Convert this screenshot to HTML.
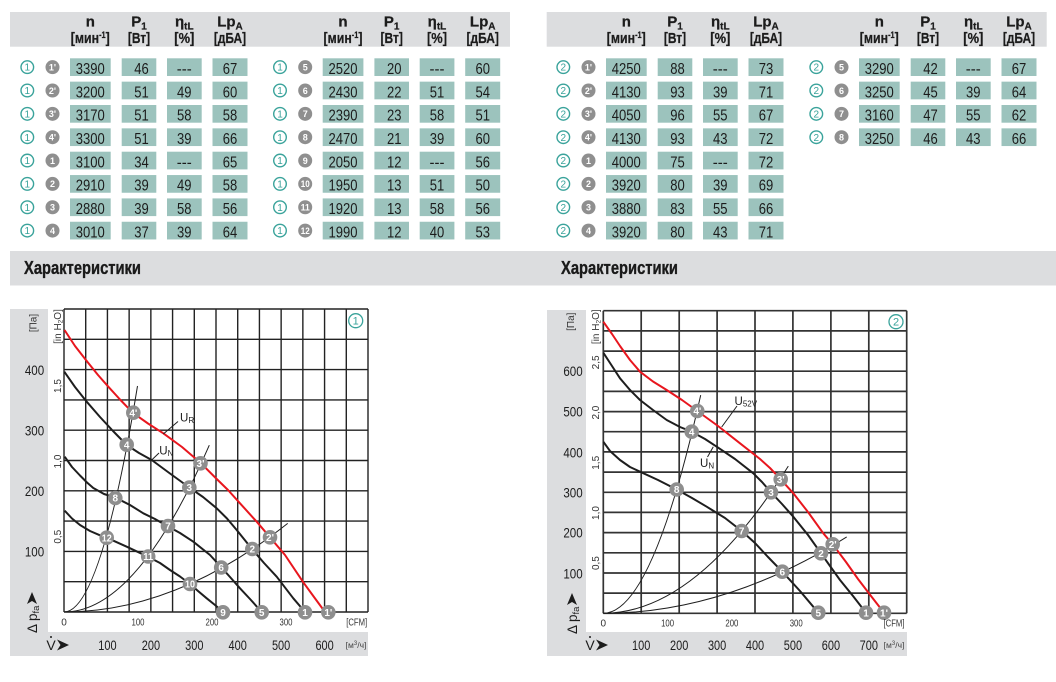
<!DOCTYPE html>
<html><head><meta charset="utf-8"><style>
html,body{margin:0;padding:0;background:#fff;}
svg{display:block;font-family:"Liberation Sans","DejaVu Sans",sans-serif;}
.bx rect{fill:#9cc3bd;}
.v{font-size:15.5px;fill:#1c1c1c;text-anchor:middle;}
.tc{fill:#fff;stroke:#3aa39b;stroke-width:1.4;}
.tt{font-size:10px;fill:#3aa39b;text-anchor:middle;}
.gc{fill:#8f8f8f;}
.gt{font-size:9px;font-weight:bold;fill:#fff;text-anchor:middle;}
.h{font-size:15px;font-weight:bold;fill:#1c1c1c;text-anchor:middle;stroke:#1c1c1c;stroke-width:0.25;}
.grid{stroke:#222;stroke-width:1.4;fill:none;}
.grid2{stroke:#333;stroke-width:1.7;fill:none;}
.cur{fill:none;stroke:#1e1e1e;stroke-width:2;stroke-linejoin:round;}
.red{fill:none;stroke:#e8161e;stroke-width:2;stroke-linejoin:round;}
.sys{fill:none;stroke:#1e1e1e;stroke-width:1;}
.m{fill:#8e8e8e;}
.mt{font-size:10px;font-weight:bold;fill:#fff;text-anchor:middle;}
.ax{font-size:14px;fill:#1c1c1c;text-anchor:middle;}
.sm{font-size:10px;fill:#333;text-anchor:middle;}
.tiny{font-size:8.5px;fill:#444;text-anchor:middle;}
.u{font-size:11.5px;fill:#1c1c1c;}
</style></head><body>
<svg width="1056" height="682" viewBox="0 0 1056 682" xmlns="http://www.w3.org/2000/svg">
<defs>
<g id="bx" class="bx"><rect x="0" y="0" width="40.7" height="17.7"/><rect x="51.7" y="0" width="34.6" height="17.7"/><rect x="97" y="0" width="34.7" height="17.7"/><rect x="142.5" y="0" width="35" height="17.7"/></g>
</defs>
<rect width="1056" height="682" fill="#fff"/>

<!-- header bands -->
<rect x="10" y="12" width="500" height="34.7" fill="#dcdddf"/>
<rect x="546.7" y="12" width="500" height="34.7" fill="#dcdddf"/>

<!-- headers -->
<g transform="translate(70,0)">
<text class="h" x="20.3" y="26.5">n</text>
<text class="h" x="20.3" y="43" textLength="39" lengthAdjust="spacingAndGlyphs">[мин<tspan font-size="9" dy="-5">-1</tspan><tspan dy="5">]</tspan></text>
<text class="h" x="69" y="26.5">P<tspan font-size="10" dy="3">1</tspan></text>
<text class="h" x="69" y="43" textLength="22.3" lengthAdjust="spacingAndGlyphs">[Вт]</text>
<text class="h" x="114.3" y="26.5" font-weight="normal" stroke-width="0">η<tspan font-size="10" dy="3" font-weight="bold">tL</tspan></text>
<text class="h" x="114.3" y="43" textLength="20" lengthAdjust="spacingAndGlyphs">[%]</text>
<text class="h" x="160" y="26.5">Lp<tspan font-size="10" dy="3">A</tspan></text>
<text class="h" x="160" y="43" textLength="32.3" lengthAdjust="spacingAndGlyphs">[дБА]</text>
</g>
<g transform="translate(322.7,0)">
<text class="h" x="20.3" y="26.5">n</text>
<text class="h" x="20.3" y="43" textLength="39" lengthAdjust="spacingAndGlyphs">[мин<tspan font-size="9" dy="-5">-1</tspan><tspan dy="5">]</tspan></text>
<text class="h" x="69" y="26.5">P<tspan font-size="10" dy="3">1</tspan></text>
<text class="h" x="69" y="43" textLength="22.3" lengthAdjust="spacingAndGlyphs">[Вт]</text>
<text class="h" x="114.3" y="26.5" font-weight="normal" stroke-width="0">η<tspan font-size="10" dy="3" font-weight="bold">tL</tspan></text>
<text class="h" x="114.3" y="43" textLength="20" lengthAdjust="spacingAndGlyphs">[%]</text>
<text class="h" x="160" y="26.5">Lp<tspan font-size="10" dy="3">A</tspan></text>
<text class="h" x="160" y="43" textLength="32.3" lengthAdjust="spacingAndGlyphs">[дБА]</text>
</g>
<g transform="translate(606,0)">
<text class="h" x="20.3" y="26.5">n</text>
<text class="h" x="20.3" y="43" textLength="39" lengthAdjust="spacingAndGlyphs">[мин<tspan font-size="9" dy="-5">-1</tspan><tspan dy="5">]</tspan></text>
<text class="h" x="69" y="26.5">P<tspan font-size="10" dy="3">1</tspan></text>
<text class="h" x="69" y="43" textLength="22.3" lengthAdjust="spacingAndGlyphs">[Вт]</text>
<text class="h" x="114.3" y="26.5" font-weight="normal" stroke-width="0">η<tspan font-size="10" dy="3" font-weight="bold">tL</tspan></text>
<text class="h" x="114.3" y="43" textLength="20" lengthAdjust="spacingAndGlyphs">[%]</text>
<text class="h" x="160" y="26.5">Lp<tspan font-size="10" dy="3">A</tspan></text>
<text class="h" x="160" y="43" textLength="32.3" lengthAdjust="spacingAndGlyphs">[дБА]</text>
</g>
<g transform="translate(859,0)">
<text class="h" x="20.3" y="26.5">n</text>
<text class="h" x="20.3" y="43" textLength="39" lengthAdjust="spacingAndGlyphs">[мин<tspan font-size="9" dy="-5">-1</tspan><tspan dy="5">]</tspan></text>
<text class="h" x="69" y="26.5">P<tspan font-size="10" dy="3">1</tspan></text>
<text class="h" x="69" y="43" textLength="22.3" lengthAdjust="spacingAndGlyphs">[Вт]</text>
<text class="h" x="114.3" y="26.5" font-weight="normal" stroke-width="0">η<tspan font-size="10" dy="3" font-weight="bold">tL</tspan></text>
<text class="h" x="114.3" y="43" textLength="20" lengthAdjust="spacingAndGlyphs">[%]</text>
<text class="h" x="160" y="26.5">Lp<tspan font-size="10" dy="3">A</tspan></text>
<text class="h" x="160" y="43" textLength="32.3" lengthAdjust="spacingAndGlyphs">[дБА]</text>
</g>

<!-- LEFT TABLE A -->
<g transform="translate(70,58.3)"><use href="#bx"/><circle class="tc" cx="-42.7" cy="8.85" r="6.3"/><text class="tt" x="-42.7" y="12.45">1</text><circle class="gc" cx="-17.5" cy="8.85" r="7"/><text class="gt" x="-17.5" y="12.15">1'</text><text class="v" x="20.3" y="15.7" textLength="29" lengthAdjust="spacingAndGlyphs">3390</text><text class="v" x="71.5" y="15.7" textLength="14.5" lengthAdjust="spacingAndGlyphs">46</text><text class="v" x="114.3" y="15.7" textLength="15" lengthAdjust="spacingAndGlyphs">---</text><text class="v" x="160" y="15.7" textLength="14.5" lengthAdjust="spacingAndGlyphs">67</text></g>
<g transform="translate(70,81.65)"><use href="#bx"/><circle class="tc" cx="-42.7" cy="8.85" r="6.3"/><text class="tt" x="-42.7" y="12.45">1</text><circle class="gc" cx="-17.5" cy="8.85" r="7"/><text class="gt" x="-17.5" y="12.15">2'</text><text class="v" x="20.3" y="15.7" textLength="29" lengthAdjust="spacingAndGlyphs">3200</text><text class="v" x="71.5" y="15.7" textLength="14.5" lengthAdjust="spacingAndGlyphs">51</text><text class="v" x="114.3" y="15.7" textLength="14.5" lengthAdjust="spacingAndGlyphs">49</text><text class="v" x="160" y="15.7" textLength="14.5" lengthAdjust="spacingAndGlyphs">60</text></g>
<g transform="translate(70,105)"><use href="#bx"/><circle class="tc" cx="-42.7" cy="8.85" r="6.3"/><text class="tt" x="-42.7" y="12.45">1</text><circle class="gc" cx="-17.5" cy="8.85" r="7"/><text class="gt" x="-17.5" y="12.15">3'</text><text class="v" x="20.3" y="15.7" textLength="29" lengthAdjust="spacingAndGlyphs">3170</text><text class="v" x="71.5" y="15.7" textLength="14.5" lengthAdjust="spacingAndGlyphs">51</text><text class="v" x="114.3" y="15.7" textLength="14.5" lengthAdjust="spacingAndGlyphs">58</text><text class="v" x="160" y="15.7" textLength="14.5" lengthAdjust="spacingAndGlyphs">58</text></g>
<g transform="translate(70,128.35)"><use href="#bx"/><circle class="tc" cx="-42.7" cy="8.85" r="6.3"/><text class="tt" x="-42.7" y="12.45">1</text><circle class="gc" cx="-17.5" cy="8.85" r="7"/><text class="gt" x="-17.5" y="12.15">4'</text><text class="v" x="20.3" y="15.7" textLength="29" lengthAdjust="spacingAndGlyphs">3300</text><text class="v" x="71.5" y="15.7" textLength="14.5" lengthAdjust="spacingAndGlyphs">51</text><text class="v" x="114.3" y="15.7" textLength="14.5" lengthAdjust="spacingAndGlyphs">39</text><text class="v" x="160" y="15.7" textLength="14.5" lengthAdjust="spacingAndGlyphs">66</text></g>
<g transform="translate(70,151.7)"><use href="#bx"/><circle class="tc" cx="-42.7" cy="8.85" r="6.3"/><text class="tt" x="-42.7" y="12.45">1</text><circle class="gc" cx="-17.5" cy="8.85" r="7"/><text class="gt" x="-17.5" y="12.15">1</text><text class="v" x="20.3" y="15.7" textLength="29" lengthAdjust="spacingAndGlyphs">3100</text><text class="v" x="71.5" y="15.7" textLength="14.5" lengthAdjust="spacingAndGlyphs">34</text><text class="v" x="114.3" y="15.7" textLength="15" lengthAdjust="spacingAndGlyphs">---</text><text class="v" x="160" y="15.7" textLength="14.5" lengthAdjust="spacingAndGlyphs">65</text></g>
<g transform="translate(70,175.05)"><use href="#bx"/><circle class="tc" cx="-42.7" cy="8.85" r="6.3"/><text class="tt" x="-42.7" y="12.45">1</text><circle class="gc" cx="-17.5" cy="8.85" r="7"/><text class="gt" x="-17.5" y="12.15">2</text><text class="v" x="20.3" y="15.7" textLength="29" lengthAdjust="spacingAndGlyphs">2910</text><text class="v" x="71.5" y="15.7" textLength="14.5" lengthAdjust="spacingAndGlyphs">39</text><text class="v" x="114.3" y="15.7" textLength="14.5" lengthAdjust="spacingAndGlyphs">49</text><text class="v" x="160" y="15.7" textLength="14.5" lengthAdjust="spacingAndGlyphs">58</text></g>
<g transform="translate(70,198.4)"><use href="#bx"/><circle class="tc" cx="-42.7" cy="8.85" r="6.3"/><text class="tt" x="-42.7" y="12.45">1</text><circle class="gc" cx="-17.5" cy="8.85" r="7"/><text class="gt" x="-17.5" y="12.15">3</text><text class="v" x="20.3" y="15.7" textLength="29" lengthAdjust="spacingAndGlyphs">2880</text><text class="v" x="71.5" y="15.7" textLength="14.5" lengthAdjust="spacingAndGlyphs">39</text><text class="v" x="114.3" y="15.7" textLength="14.5" lengthAdjust="spacingAndGlyphs">58</text><text class="v" x="160" y="15.7" textLength="14.5" lengthAdjust="spacingAndGlyphs">56</text></g>
<g transform="translate(70,221.75)"><use href="#bx"/><circle class="tc" cx="-42.7" cy="8.85" r="6.3"/><text class="tt" x="-42.7" y="12.45">1</text><circle class="gc" cx="-17.5" cy="8.85" r="7"/><text class="gt" x="-17.5" y="12.15">4</text><text class="v" x="20.3" y="15.7" textLength="29" lengthAdjust="spacingAndGlyphs">3010</text><text class="v" x="71.5" y="15.7" textLength="14.5" lengthAdjust="spacingAndGlyphs">37</text><text class="v" x="114.3" y="15.7" textLength="14.5" lengthAdjust="spacingAndGlyphs">39</text><text class="v" x="160" y="15.7" textLength="14.5" lengthAdjust="spacingAndGlyphs">64</text></g>

<!-- LEFT TABLE B -->
<g transform="translate(322.7,58.3)"><use href="#bx"/><circle class="tc" cx="-42.7" cy="8.85" r="6.3"/><text class="tt" x="-42.7" y="12.45">1</text><circle class="gc" cx="-17.5" cy="8.85" r="7"/><text class="gt" x="-17.5" y="12.15">5</text><text class="v" x="20.3" y="15.7" textLength="29" lengthAdjust="spacingAndGlyphs">2520</text><text class="v" x="71.5" y="15.7" textLength="14.5" lengthAdjust="spacingAndGlyphs">20</text><text class="v" x="114.3" y="15.7" textLength="15" lengthAdjust="spacingAndGlyphs">---</text><text class="v" x="160" y="15.7" textLength="14.5" lengthAdjust="spacingAndGlyphs">60</text></g>
<g transform="translate(322.7,81.65)"><use href="#bx"/><circle class="tc" cx="-42.7" cy="8.85" r="6.3"/><text class="tt" x="-42.7" y="12.45">1</text><circle class="gc" cx="-17.5" cy="8.85" r="7"/><text class="gt" x="-17.5" y="12.15">6</text><text class="v" x="20.3" y="15.7" textLength="29" lengthAdjust="spacingAndGlyphs">2430</text><text class="v" x="71.5" y="15.7" textLength="14.5" lengthAdjust="spacingAndGlyphs">22</text><text class="v" x="114.3" y="15.7" textLength="14.5" lengthAdjust="spacingAndGlyphs">51</text><text class="v" x="160" y="15.7" textLength="14.5" lengthAdjust="spacingAndGlyphs">54</text></g>
<g transform="translate(322.7,105)"><use href="#bx"/><circle class="tc" cx="-42.7" cy="8.85" r="6.3"/><text class="tt" x="-42.7" y="12.45">1</text><circle class="gc" cx="-17.5" cy="8.85" r="7"/><text class="gt" x="-17.5" y="12.15">7</text><text class="v" x="20.3" y="15.7" textLength="29" lengthAdjust="spacingAndGlyphs">2390</text><text class="v" x="71.5" y="15.7" textLength="14.5" lengthAdjust="spacingAndGlyphs">23</text><text class="v" x="114.3" y="15.7" textLength="14.5" lengthAdjust="spacingAndGlyphs">58</text><text class="v" x="160" y="15.7" textLength="14.5" lengthAdjust="spacingAndGlyphs">51</text></g>
<g transform="translate(322.7,128.35)"><use href="#bx"/><circle class="tc" cx="-42.7" cy="8.85" r="6.3"/><text class="tt" x="-42.7" y="12.45">1</text><circle class="gc" cx="-17.5" cy="8.85" r="7"/><text class="gt" x="-17.5" y="12.15">8</text><text class="v" x="20.3" y="15.7" textLength="29" lengthAdjust="spacingAndGlyphs">2470</text><text class="v" x="71.5" y="15.7" textLength="14.5" lengthAdjust="spacingAndGlyphs">21</text><text class="v" x="114.3" y="15.7" textLength="14.5" lengthAdjust="spacingAndGlyphs">39</text><text class="v" x="160" y="15.7" textLength="14.5" lengthAdjust="spacingAndGlyphs">60</text></g>
<g transform="translate(322.7,151.7)"><use href="#bx"/><circle class="tc" cx="-42.7" cy="8.85" r="6.3"/><text class="tt" x="-42.7" y="12.45">1</text><circle class="gc" cx="-17.5" cy="8.85" r="7"/><text class="gt" x="-17.5" y="12.15">9</text><text class="v" x="20.3" y="15.7" textLength="29" lengthAdjust="spacingAndGlyphs">2050</text><text class="v" x="71.5" y="15.7" textLength="14.5" lengthAdjust="spacingAndGlyphs">12</text><text class="v" x="114.3" y="15.7" textLength="15" lengthAdjust="spacingAndGlyphs">---</text><text class="v" x="160" y="15.7" textLength="14.5" lengthAdjust="spacingAndGlyphs">56</text></g>
<g transform="translate(322.7,175.05)"><use href="#bx"/><circle class="tc" cx="-42.7" cy="8.85" r="6.3"/><text class="tt" x="-42.7" y="12.45">1</text><circle class="gc" cx="-17.5" cy="8.85" r="7"/><text class="gt" x="-17.5" y="12.15" textLength="9" lengthAdjust="spacingAndGlyphs">10</text><text class="v" x="20.3" y="15.7" textLength="29" lengthAdjust="spacingAndGlyphs">1950</text><text class="v" x="71.5" y="15.7" textLength="14.5" lengthAdjust="spacingAndGlyphs">13</text><text class="v" x="114.3" y="15.7" textLength="14.5" lengthAdjust="spacingAndGlyphs">51</text><text class="v" x="160" y="15.7" textLength="14.5" lengthAdjust="spacingAndGlyphs">50</text></g>
<g transform="translate(322.7,198.4)"><use href="#bx"/><circle class="tc" cx="-42.7" cy="8.85" r="6.3"/><text class="tt" x="-42.7" y="12.45">1</text><circle class="gc" cx="-17.5" cy="8.85" r="7"/><text class="gt" x="-17.5" y="12.15" textLength="9" lengthAdjust="spacingAndGlyphs">11</text><text class="v" x="20.3" y="15.7" textLength="29" lengthAdjust="spacingAndGlyphs">1920</text><text class="v" x="71.5" y="15.7" textLength="14.5" lengthAdjust="spacingAndGlyphs">13</text><text class="v" x="114.3" y="15.7" textLength="14.5" lengthAdjust="spacingAndGlyphs">58</text><text class="v" x="160" y="15.7" textLength="14.5" lengthAdjust="spacingAndGlyphs">56</text></g>
<g transform="translate(322.7,221.75)"><use href="#bx"/><circle class="tc" cx="-42.7" cy="8.85" r="6.3"/><text class="tt" x="-42.7" y="12.45">1</text><circle class="gc" cx="-17.5" cy="8.85" r="7"/><text class="gt" x="-17.5" y="12.15" textLength="9" lengthAdjust="spacingAndGlyphs">12</text><text class="v" x="20.3" y="15.7" textLength="29" lengthAdjust="spacingAndGlyphs">1990</text><text class="v" x="71.5" y="15.7" textLength="14.5" lengthAdjust="spacingAndGlyphs">12</text><text class="v" x="114.3" y="15.7" textLength="14.5" lengthAdjust="spacingAndGlyphs">40</text><text class="v" x="160" y="15.7" textLength="14.5" lengthAdjust="spacingAndGlyphs">53</text></g>

<!-- RIGHT TABLE A -->
<g transform="translate(606,58.3)"><use href="#bx"/><circle class="tc" cx="-42.7" cy="8.85" r="6.3"/><text class="tt" x="-42.7" y="12.45">2</text><circle class="gc" cx="-17.5" cy="8.85" r="7"/><text class="gt" x="-17.5" y="12.15">1'</text><text class="v" x="20.3" y="15.7" textLength="29" lengthAdjust="spacingAndGlyphs">4250</text><text class="v" x="71.5" y="15.7" textLength="14.5" lengthAdjust="spacingAndGlyphs">88</text><text class="v" x="114.3" y="15.7" textLength="15" lengthAdjust="spacingAndGlyphs">---</text><text class="v" x="160" y="15.7" textLength="14.5" lengthAdjust="spacingAndGlyphs">73</text></g>
<g transform="translate(606,81.65)"><use href="#bx"/><circle class="tc" cx="-42.7" cy="8.85" r="6.3"/><text class="tt" x="-42.7" y="12.45">2</text><circle class="gc" cx="-17.5" cy="8.85" r="7"/><text class="gt" x="-17.5" y="12.15">2'</text><text class="v" x="20.3" y="15.7" textLength="29" lengthAdjust="spacingAndGlyphs">4130</text><text class="v" x="71.5" y="15.7" textLength="14.5" lengthAdjust="spacingAndGlyphs">93</text><text class="v" x="114.3" y="15.7" textLength="14.5" lengthAdjust="spacingAndGlyphs">39</text><text class="v" x="160" y="15.7" textLength="14.5" lengthAdjust="spacingAndGlyphs">71</text></g>
<g transform="translate(606,105)"><use href="#bx"/><circle class="tc" cx="-42.7" cy="8.85" r="6.3"/><text class="tt" x="-42.7" y="12.45">2</text><circle class="gc" cx="-17.5" cy="8.85" r="7"/><text class="gt" x="-17.5" y="12.15">3'</text><text class="v" x="20.3" y="15.7" textLength="29" lengthAdjust="spacingAndGlyphs">4050</text><text class="v" x="71.5" y="15.7" textLength="14.5" lengthAdjust="spacingAndGlyphs">96</text><text class="v" x="114.3" y="15.7" textLength="14.5" lengthAdjust="spacingAndGlyphs">55</text><text class="v" x="160" y="15.7" textLength="14.5" lengthAdjust="spacingAndGlyphs">67</text></g>
<g transform="translate(606,128.35)"><use href="#bx"/><circle class="tc" cx="-42.7" cy="8.85" r="6.3"/><text class="tt" x="-42.7" y="12.45">2</text><circle class="gc" cx="-17.5" cy="8.85" r="7"/><text class="gt" x="-17.5" y="12.15">4'</text><text class="v" x="20.3" y="15.7" textLength="29" lengthAdjust="spacingAndGlyphs">4130</text><text class="v" x="71.5" y="15.7" textLength="14.5" lengthAdjust="spacingAndGlyphs">93</text><text class="v" x="114.3" y="15.7" textLength="14.5" lengthAdjust="spacingAndGlyphs">43</text><text class="v" x="160" y="15.7" textLength="14.5" lengthAdjust="spacingAndGlyphs">72</text></g>
<g transform="translate(606,151.7)"><use href="#bx"/><circle class="tc" cx="-42.7" cy="8.85" r="6.3"/><text class="tt" x="-42.7" y="12.45">2</text><circle class="gc" cx="-17.5" cy="8.85" r="7"/><text class="gt" x="-17.5" y="12.15">1</text><text class="v" x="20.3" y="15.7" textLength="29" lengthAdjust="spacingAndGlyphs">4000</text><text class="v" x="71.5" y="15.7" textLength="14.5" lengthAdjust="spacingAndGlyphs">75</text><text class="v" x="114.3" y="15.7" textLength="15" lengthAdjust="spacingAndGlyphs">---</text><text class="v" x="160" y="15.7" textLength="14.5" lengthAdjust="spacingAndGlyphs">72</text></g>
<g transform="translate(606,175.05)"><use href="#bx"/><circle class="tc" cx="-42.7" cy="8.85" r="6.3"/><text class="tt" x="-42.7" y="12.45">2</text><circle class="gc" cx="-17.5" cy="8.85" r="7"/><text class="gt" x="-17.5" y="12.15">2</text><text class="v" x="20.3" y="15.7" textLength="29" lengthAdjust="spacingAndGlyphs">3920</text><text class="v" x="71.5" y="15.7" textLength="14.5" lengthAdjust="spacingAndGlyphs">80</text><text class="v" x="114.3" y="15.7" textLength="14.5" lengthAdjust="spacingAndGlyphs">39</text><text class="v" x="160" y="15.7" textLength="14.5" lengthAdjust="spacingAndGlyphs">69</text></g>
<g transform="translate(606,198.4)"><use href="#bx"/><circle class="tc" cx="-42.7" cy="8.85" r="6.3"/><text class="tt" x="-42.7" y="12.45">2</text><circle class="gc" cx="-17.5" cy="8.85" r="7"/><text class="gt" x="-17.5" y="12.15">3</text><text class="v" x="20.3" y="15.7" textLength="29" lengthAdjust="spacingAndGlyphs">3880</text><text class="v" x="71.5" y="15.7" textLength="14.5" lengthAdjust="spacingAndGlyphs">83</text><text class="v" x="114.3" y="15.7" textLength="14.5" lengthAdjust="spacingAndGlyphs">55</text><text class="v" x="160" y="15.7" textLength="14.5" lengthAdjust="spacingAndGlyphs">66</text></g>
<g transform="translate(606,221.75)"><use href="#bx"/><circle class="tc" cx="-42.7" cy="8.85" r="6.3"/><text class="tt" x="-42.7" y="12.45">2</text><circle class="gc" cx="-17.5" cy="8.85" r="7"/><text class="gt" x="-17.5" y="12.15">4</text><text class="v" x="20.3" y="15.7" textLength="29" lengthAdjust="spacingAndGlyphs">3920</text><text class="v" x="71.5" y="15.7" textLength="14.5" lengthAdjust="spacingAndGlyphs">80</text><text class="v" x="114.3" y="15.7" textLength="14.5" lengthAdjust="spacingAndGlyphs">43</text><text class="v" x="160" y="15.7" textLength="14.5" lengthAdjust="spacingAndGlyphs">71</text></g>

<!-- RIGHT TABLE B -->
<g transform="translate(859,58.3)"><use href="#bx"/><circle class="tc" cx="-42.7" cy="8.85" r="6.3"/><text class="tt" x="-42.7" y="12.45">2</text><circle class="gc" cx="-17.5" cy="8.85" r="7"/><text class="gt" x="-17.5" y="12.15">5</text><text class="v" x="20.3" y="15.7" textLength="29" lengthAdjust="spacingAndGlyphs">3290</text><text class="v" x="71.5" y="15.7" textLength="14.5" lengthAdjust="spacingAndGlyphs">42</text><text class="v" x="114.3" y="15.7" textLength="15" lengthAdjust="spacingAndGlyphs">---</text><text class="v" x="160" y="15.7" textLength="14.5" lengthAdjust="spacingAndGlyphs">67</text></g>
<g transform="translate(859,81.65)"><use href="#bx"/><circle class="tc" cx="-42.7" cy="8.85" r="6.3"/><text class="tt" x="-42.7" y="12.45">2</text><circle class="gc" cx="-17.5" cy="8.85" r="7"/><text class="gt" x="-17.5" y="12.15">6</text><text class="v" x="20.3" y="15.7" textLength="29" lengthAdjust="spacingAndGlyphs">3250</text><text class="v" x="71.5" y="15.7" textLength="14.5" lengthAdjust="spacingAndGlyphs">45</text><text class="v" x="114.3" y="15.7" textLength="14.5" lengthAdjust="spacingAndGlyphs">39</text><text class="v" x="160" y="15.7" textLength="14.5" lengthAdjust="spacingAndGlyphs">64</text></g>
<g transform="translate(859,105)"><use href="#bx"/><circle class="tc" cx="-42.7" cy="8.85" r="6.3"/><text class="tt" x="-42.7" y="12.45">2</text><circle class="gc" cx="-17.5" cy="8.85" r="7"/><text class="gt" x="-17.5" y="12.15">7</text><text class="v" x="20.3" y="15.7" textLength="29" lengthAdjust="spacingAndGlyphs">3160</text><text class="v" x="71.5" y="15.7" textLength="14.5" lengthAdjust="spacingAndGlyphs">47</text><text class="v" x="114.3" y="15.7" textLength="14.5" lengthAdjust="spacingAndGlyphs">55</text><text class="v" x="160" y="15.7" textLength="14.5" lengthAdjust="spacingAndGlyphs">62</text></g>
<g transform="translate(859,128.35)"><use href="#bx"/><circle class="tc" cx="-42.7" cy="8.85" r="6.3"/><text class="tt" x="-42.7" y="12.45">2</text><circle class="gc" cx="-17.5" cy="8.85" r="7"/><text class="gt" x="-17.5" y="12.15">8</text><text class="v" x="20.3" y="15.7" textLength="29" lengthAdjust="spacingAndGlyphs">3250</text><text class="v" x="71.5" y="15.7" textLength="14.5" lengthAdjust="spacingAndGlyphs">46</text><text class="v" x="114.3" y="15.7" textLength="14.5" lengthAdjust="spacingAndGlyphs">43</text><text class="v" x="160" y="15.7" textLength="14.5" lengthAdjust="spacingAndGlyphs">66</text></g>

<!-- Section header band -->
<rect x="10" y="251" width="1046" height="34.5" fill="#dcdddf"/>
<text x="24" y="274" font-size="18.5" font-weight="bold" fill="#1a1a1a" stroke="#1a1a1a" stroke-width="0.35" textLength="117" lengthAdjust="spacingAndGlyphs">Характеристики</text>
<text x="561" y="274" font-size="18.5" font-weight="bold" fill="#1a1a1a" stroke="#1a1a1a" stroke-width="0.35" textLength="117" lengthAdjust="spacingAndGlyphs">Характеристики</text>

<!-- ================= LEFT CHART ================= -->
<rect x="10" y="309" width="38" height="347" fill="#dcdddf"/>
<rect x="10" y="632" width="358" height="24" fill="#dcdddf"/>
<path class="grid" d="M64 309V612M85.71 309V612M107.43 309V612M129.14 309V612M150.86 309V612M172.57 309V612M194.29 309V612M216 309V612M237.71 309V612M259.43 309V612M281.14 309V612M302.86 309V612M324.57 309V612M346.29 309V612M368 309V612
M64 612H368M64 581.7H368M64 551.4H368M64 521.1H368M64 490.8H368M64 460.5H368M64 430.2H368M64 399.9H368M64 369.6H368M64 339.3H368M64 309H368"/>

<!-- system curves -->
<path class="sys" d="M64 612Q100.5 612 137.5 386"/>
<path class="sys" d="M64 612Q136.65 612 209.3 445.2"/>
<path class="sys" d="M64 612Q175.85 612 287.7 523.4"/>

<!-- fan curves -->
<polyline class="red" points="64.5,330 75,346 87.3,361.7 98,375 108.3,386.7 120,399.5 132.7,412.7 148,423.5 163.3,433.3 182,447 201,463.3 216.7,479 228,490 240,503.3 256.7,521.7 270,537.3 285,555 303.3,582.3 314,597 325,612"/>
<polyline class="cur" points="64.3,371.7 75,387 86.7,401.7 100,417 113,431 126.7,445 139,453 151.7,460 170,473.5 189.3,487.5 203,497 216.7,508.3 227,518.5 236.7,530 252,549 264,563 276.7,576.7 293.3,598.3 305,612"/>
<polyline class="cur" points="64.7,456.7 72,467 80,475.5 87,482.5 93.3,488 104,494 115.7,497.7 130,505 143.3,513.3 155,519 167.3,526 180,533 193.3,541.7 210,555 221.3,567.3 230,577 240,588.3 250,599 261.7,612"/>
<polyline class="cur" points="64.7,510.7 72,518.5 80,525 90,531 100,535.3 106.7,537.7 126.7,546.7 148,556.7 160,563 170,570 180,576.5 190,584 198,591 206.7,598.3 215,605 223,612"/>

<!-- leaders -->
<path d="M163.3 434L178 421.5" stroke="#1e1e1e" stroke-width="1" fill="none"/>
<path d="M151.7 460L159 453" stroke="#1e1e1e" stroke-width="1" fill="none"/>
<text class="u" x="180" y="421.7">U<tspan font-size="8" dy="1.5">R</tspan></text>
<text class="u" x="159.3" y="454.3">U<tspan font-size="8" dy="1.5">N</tspan></text>

<!-- markers -->
<circle class="m" cx="133.3" cy="412.7" r="7.3"/><text class="mt" x="133.3" y="416.3">4'</text>
<circle class="m" cx="200.5" cy="463.3" r="7.3"/><text class="mt" x="200.5" y="466.9">3'</text>
<circle class="m" cx="270" cy="537.3" r="7.3"/><text class="mt" x="270" y="540.9">2'</text>
<circle class="m" cx="328.3" cy="612.3" r="7.3"/><text class="mt" x="328.3" y="615.9">1'</text>
<circle class="m" cx="126.7" cy="444.7" r="7.3"/><text class="mt" x="126.7" y="448.3">4</text>
<circle class="m" cx="189.3" cy="487.5" r="7.3"/><text class="mt" x="189.3" y="491.1">3</text>
<circle class="m" cx="252.3" cy="549" r="7.3"/><text class="mt" x="252.3" y="552.6">2</text>
<circle class="m" cx="305" cy="612.3" r="7.3"/><text class="mt" x="305" y="615.9">1</text>
<circle class="m" cx="115.3" cy="498" r="7.3"/><text class="mt" x="115.3" y="501.6">8</text>
<circle class="m" cx="168" cy="526" r="7.3"/><text class="mt" x="168" y="529.6">7</text>
<circle class="m" cx="221.2" cy="567.5" r="7.3"/><text class="mt" x="221.2" y="571.1">6</text>
<circle class="m" cx="261.7" cy="612.3" r="7.3"/><text class="mt" x="261.7" y="615.9">5</text>
<circle class="m" cx="106.7" cy="537.7" r="7.3"/><text class="mt" x="106.7" y="541.3" textLength="10" lengthAdjust="spacingAndGlyphs">12</text>
<circle class="m" cx="148.2" cy="556.5" r="7.3"/><text class="mt" x="148.2" y="560.1" textLength="10" lengthAdjust="spacingAndGlyphs">11</text>
<circle class="m" cx="190" cy="584" r="7.3"/><text class="mt" x="190" y="587.6" textLength="10" lengthAdjust="spacingAndGlyphs">10</text>
<circle class="m" cx="223" cy="612.3" r="7.3"/><text class="mt" x="223" y="615.9">9</text>

<circle cx="355.7" cy="320.7" r="7" fill="#fff" stroke="#3aa39b" stroke-width="1.3"/>
<text x="355.7" y="324.6" font-size="11" fill="#3aa39b" text-anchor="middle">1</text>

<!-- left axes labels -->
<text class="ax" x="34.5" y="375" textLength="19.3" lengthAdjust="spacingAndGlyphs">400</text>
<text class="ax" x="34.5" y="435.5" textLength="19.3" lengthAdjust="spacingAndGlyphs">300</text>
<text class="ax" x="34.5" y="496" textLength="19.3" lengthAdjust="spacingAndGlyphs">200</text>
<text class="ax" x="34.5" y="556.5" textLength="19.3" lengthAdjust="spacingAndGlyphs">100</text>
<text class="sm" transform="translate(36.5,323) rotate(-90)">[Па]</text>
<text class="sm" transform="translate(61,326.5) rotate(-90)">[in H<tspan font-size="6.5" dy="1.5">2</tspan><tspan dy="-1.5">O]</tspan></text>
<text class="sm" transform="translate(61,386) rotate(-90)">1,5</text>
<text class="sm" transform="translate(61,461.5) rotate(-90)">1,0</text>
<text class="sm" transform="translate(61,536.7) rotate(-90)">0,5</text>
<text transform="translate(37,633) rotate(-90)" font-size="13.5" fill="#1c1c1c">Δ p<tspan font-size="9.5" dy="2">fa</tspan></text>
<polygon points="27,604 32,592 37,604 32,601" fill="#1c1c1c"/>

<text class="sm" x="64" y="625.5">0</text>
<text class="sm" x="138" y="625.5" textLength="13" lengthAdjust="spacingAndGlyphs">100</text>
<text class="sm" x="212" y="625.5" textLength="13" lengthAdjust="spacingAndGlyphs">200</text>
<text class="sm" x="286" y="625.5" textLength="13" lengthAdjust="spacingAndGlyphs">300</text>
<text class="sm" x="356.7" y="625.5" textLength="21" lengthAdjust="spacingAndGlyphs">[CFM]</text>

<text x="51" y="650" font-size="14" fill="#1c1c1c" text-anchor="middle">V</text>
<circle cx="51" cy="637" r="1" fill="#1c1c1c"/>
<polygon points="57,639.5 69,645 57,650.5 60.5,645" fill="#1c1c1c"/>
<text class="ax" x="107.4" y="650" textLength="18.3" lengthAdjust="spacingAndGlyphs">100</text>
<text class="ax" x="150.9" y="650" textLength="18.3" lengthAdjust="spacingAndGlyphs">200</text>
<text class="ax" x="194.3" y="650" textLength="18.3" lengthAdjust="spacingAndGlyphs">300</text>
<text class="ax" x="237.7" y="650" textLength="18.3" lengthAdjust="spacingAndGlyphs">400</text>
<text class="ax" x="281.1" y="650" textLength="18.3" lengthAdjust="spacingAndGlyphs">500</text>
<text class="ax" x="324.6" y="650" textLength="18.3" lengthAdjust="spacingAndGlyphs">600</text>
<text class="tiny" x="356" y="648">[м<tspan font-size="6" dy="-3">3</tspan><tspan dy="3">/ч]</tspan></text>

<!-- ================= RIGHT CHART ================= -->
<rect x="547" y="310" width="39" height="346" fill="#dcdddf"/>
<rect x="547" y="632" width="360" height="24" fill="#dcdddf"/>
<path class="grid2" d="M603.3 310.7V613.3M641.2 310.7V613.3M679.2 310.7V613.3M717.1 310.7V613.3M755 310.7V613.3M792.9 310.7V613.3M830.9 310.7V613.3M868.8 310.7V613.3M906.7 310.7V613.3
M603.3 613.3H906.7M603.3 593.1H906.7M603.3 573H906.7M603.3 552.8H906.7M603.3 532.6H906.7M603.3 512.4H906.7M603.3 492.3H906.7M603.3 472.1H906.7M603.3 451.9H906.7M603.3 431.7H906.7M603.3 411.6H906.7M603.3 391.4H906.7M603.3 371.2H906.7M603.3 351.1H906.7M603.3 330.9H906.7M603.3 310.7H906.7"/>

<path class="sys" d="M603.3 613.3Q652 613.3 700.7 395.1"/>
<path class="sys" d="M603.3 613.3Q695.8 613.3 788.3 466.1"/>
<path class="sys" d="M603.3 613.3Q725 613.3 846.7 536.9"/>

<polyline class="red" points="603.3,321.7 612,334 620,346 630,360 640,371.7 653,381.5 666.7,390 682,400 697.3,411 718,426 740,443.3 760,459 770,468 780.7,479.3 793.3,493.3 808,512 823.3,533.3 832.7,544.3 846,562 858,579 871,596 884,612.7"/>
<polyline class="cur" points="603.3,352.7 612,366 620,378.3 630,390 640,400 653,410 666.7,420 680,427 691.7,431.7 705,439 716.7,446.7 735,459 753.3,473.3 762,482 771,492.3 782,504 793.3,516.7 808,535 821,553.3 830,566 840,580 853,596 866,612.7"/>
<polyline class="cur" points="603.3,441.7 610,451 620,460 630,467 640,471.7 658,480 676.7,489.5 692,498 706.7,506.7 725,518 741.7,531 755,543 768,557 782.3,571.7 800,591 818.3,612.7"/>

<path d="M721.7 427L737 406" stroke="#1e1e1e" stroke-width="1" fill="none"/>
<path d="M713.3 446.7L707.5 457" stroke="#1e1e1e" stroke-width="1" fill="none"/>
<text class="u" x="734.5" y="405">U<tspan font-size="8" dy="1.5">52V</tspan></text>
<text class="u" x="700" y="467">U<tspan font-size="8" dy="1.5">N</tspan></text>

<circle class="m" cx="697.3" cy="411" r="7.3"/><text class="mt" x="697.3" y="414.6">4'</text>
<circle class="m" cx="691.7" cy="431.7" r="7.3"/><text class="mt" x="691.7" y="435.3">4</text>
<circle class="m" cx="676.7" cy="489.5" r="7.3"/><text class="mt" x="676.7" y="493.1">8</text>
<circle class="m" cx="780.7" cy="479.3" r="7.3"/><text class="mt" x="780.7" y="482.9">3'</text>
<circle class="m" cx="771" cy="492.3" r="7.3"/><text class="mt" x="771" y="495.9">3</text>
<circle class="m" cx="741.7" cy="531" r="7.3"/><text class="mt" x="741.7" y="534.6">7</text>
<circle class="m" cx="832.7" cy="544.3" r="7.3"/><text class="mt" x="832.7" y="547.9">2'</text>
<circle class="m" cx="821" cy="553.3" r="7.3"/><text class="mt" x="821" y="556.9">2</text>
<circle class="m" cx="782.3" cy="571.7" r="7.3"/><text class="mt" x="782.3" y="575.3">6</text>
<circle class="m" cx="818.3" cy="612.7" r="7.3"/><text class="mt" x="818.3" y="616.3">5</text>
<circle class="m" cx="866" cy="612.7" r="7.3"/><text class="mt" x="866" y="616.3">1</text>
<circle class="m" cx="884" cy="612.7" r="7.3"/><text class="mt" x="884" y="616.3">1'</text>

<circle cx="896" cy="321.7" r="7" fill="#fff" stroke="#3aa39b" stroke-width="1.3"/>
<text x="896" y="325.6" font-size="11" fill="#3aa39b" text-anchor="middle">2</text>

<text class="ax" x="573" y="376" textLength="19.3" lengthAdjust="spacingAndGlyphs">600</text>
<text class="ax" x="573" y="416.7" textLength="19.3" lengthAdjust="spacingAndGlyphs">500</text>
<text class="ax" x="573" y="457.3" textLength="19.3" lengthAdjust="spacingAndGlyphs">400</text>
<text class="ax" x="573" y="497.3" textLength="19.3" lengthAdjust="spacingAndGlyphs">300</text>
<text class="ax" x="573" y="537.7" textLength="19.3" lengthAdjust="spacingAndGlyphs">200</text>
<text class="ax" x="573" y="578.3" textLength="19.3" lengthAdjust="spacingAndGlyphs">100</text>
<text class="sm" transform="translate(574,321.7) rotate(-90)">[Па]</text>
<text class="sm" transform="translate(599,326.7) rotate(-90)">[in H<tspan font-size="6.5" dy="1.5">2</tspan><tspan dy="-1.5">O]</tspan></text>
<text class="sm" transform="translate(599,362.4) rotate(-90)">2,5</text>
<text class="sm" transform="translate(599,412.6) rotate(-90)">2,0</text>
<text class="sm" transform="translate(599,462.8) rotate(-90)">1,5</text>
<text class="sm" transform="translate(599,513) rotate(-90)">1,0</text>
<text class="sm" transform="translate(599,563.1) rotate(-90)">0,5</text>
<text transform="translate(577,634) rotate(-90)" font-size="13.5" fill="#1c1c1c">Δ p<tspan font-size="9.5" dy="2">fa</tspan></text>
<polygon points="567,605 572,593 577,605 572,602" fill="#1c1c1c"/>

<text class="sm" x="603.3" y="626.5">0</text>
<text class="sm" x="667.6" y="626.5" textLength="13" lengthAdjust="spacingAndGlyphs">100</text>
<text class="sm" x="731.9" y="626.5" textLength="13" lengthAdjust="spacingAndGlyphs">200</text>
<text class="sm" x="796.2" y="626.5" textLength="13" lengthAdjust="spacingAndGlyphs">300</text>
<text class="sm" x="894" y="626.5" textLength="21" lengthAdjust="spacingAndGlyphs">[CFM]</text>

<text x="590" y="650" font-size="14" fill="#1c1c1c" text-anchor="middle">V</text>
<circle cx="590" cy="637" r="1" fill="#1c1c1c"/>
<polygon points="596,639.5 608,645 596,650.5 599.5,645" fill="#1c1c1c"/>
<text class="ax" x="641.2" y="650" textLength="18.3" lengthAdjust="spacingAndGlyphs">100</text>
<text class="ax" x="679.2" y="650" textLength="18.3" lengthAdjust="spacingAndGlyphs">200</text>
<text class="ax" x="717.1" y="650" textLength="18.3" lengthAdjust="spacingAndGlyphs">300</text>
<text class="ax" x="755" y="650" textLength="18.3" lengthAdjust="spacingAndGlyphs">400</text>
<text class="ax" x="792.9" y="650" textLength="18.3" lengthAdjust="spacingAndGlyphs">500</text>
<text class="ax" x="830.9" y="650" textLength="18.3" lengthAdjust="spacingAndGlyphs">600</text>
<text class="ax" x="868.8" y="650" textLength="18.3" lengthAdjust="spacingAndGlyphs">700</text>
<text class="tiny" x="894" y="648">[м<tspan font-size="6" dy="-3">3</tspan><tspan dy="3">/ч]</tspan></text>
</svg>
</body></html>
